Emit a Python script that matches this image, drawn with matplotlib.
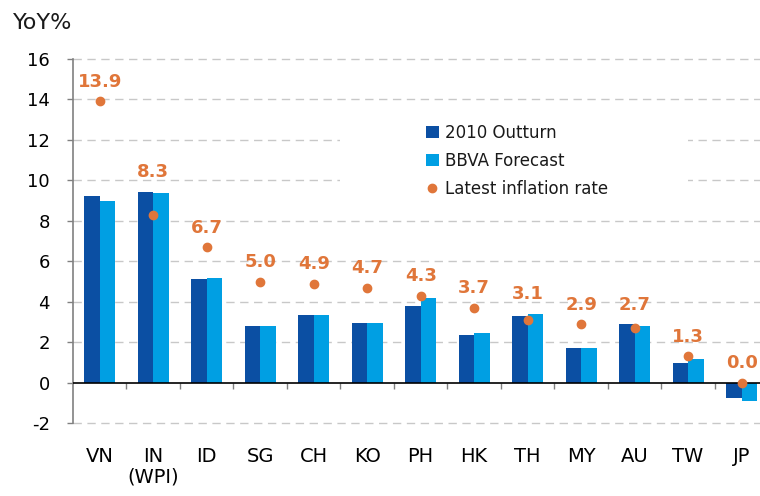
import numpy as np
import matplotlib
matplotlib.use('Agg')
import matplotlib.pyplot as plt
from matplotlib.patches import Patch, Rectangle
from matplotlib.lines import Line2D

# data
countries = ['VN', 'IN\n(WPI)', 'ID', 'SG', 'CH', 'KO', 'PH', 'HK', 'TH', 'MY', 'AU', 'TW', 'JP']
outturn_2010 = [9.22, 9.45, 5.11, 2.82, 3.33, 2.95, 3.78, 2.37, 3.28, 1.70, 2.89, 0.97, -0.76]
bbva_forecast = [9.0, 9.4, 5.18, 2.82, 3.33, 2.95, 4.17, 2.44, 3.40, 1.70, 2.82, 1.15, -0.89]
latest_rate = [13.9, 8.3, 6.7, 5.0, 4.9, 4.7, 4.3, 3.7, 3.1, 2.9, 2.7, 1.3, 0.0]
yticks = [-2, 0, 2, 4, 6, 8, 10, 12, 14, 16]

c_dark = '#0B4FA3'
c_light = '#009FE3'
c_orange = '#E0763A'
c_grid = '#C8C8C8'
c_axis = '#808080'

plt.rcParams['font.family'] = 'DejaVu Sans'
plt.rcParams['text.color'] = '#1A1A1A'

fig = plt.figure(figsize=(7.6, 4.96), dpi=100)
ax = fig.add_axes([0.096, 0.147, 0.915, 0.734])

x = np.arange(len(countries))
w = 0.29

# dashed grid
for yv in yticks:
    if yv == 0:
        continue
    ax.axhline(yv, color=c_grid, lw=1, ls=(0, (6, 4)), zorder=0, clip_on=False)

ax.bar(x - w/2, outturn_2010, w, color=c_dark, zorder=2)
ax.bar(x + w/2, bbva_forecast, w, color=c_light, zorder=2)
ax.axhline(0, color='black', lw=1.2, zorder=3)
ax.plot(x, latest_rate, 'o', color=c_orange, ms=6, zorder=4, clip_on=False)
# value labels sit above whichever is higher: the dot or the bars
for xi, v, a, b in zip(x, latest_rate, outturn_2010, bbva_forecast):
    top = max(v, a, b)
    ax.annotate('%.1f' % v, (xi, top), xytext=(0, 14), textcoords='offset points',
                ha='center', va='center', fontsize=13, fontweight='bold',
                color=c_orange, zorder=5)

ax.set_xlim(-0.5, len(countries) - 0.5)
ax.set_ylim(-2, 16)
ax.set_yticks(yticks)
ax.set_yticklabels([str(t) for t in yticks])
ax.tick_params(axis='y', which='major', direction='out', length=4.5, width=1,
               color=c_axis, labelsize=13, pad=12)

# category labels low, separator ticks on the zero line
ax.spines['bottom'].set_position(('data', 0))
ax.spines['bottom'].set_visible(False)
ax.set_xticks(x)
ax.set_xticklabels(countries, fontsize=14, va='top', linespacing=1.15)
ax.set_xticks(np.arange(len(countries)) + 0.5, minor=True)
ax.tick_params(axis='x', which='major', length=0, pad=46)
ax.tick_params(axis='x', which='minor', direction='out', length=4.5, width=1, color=c_axis)
for sp in ['top', 'right']:
    ax.spines[sp].set_visible(False)
ax.spines['left'].set_color(c_axis)
ax.spines['left'].set_linewidth(1.2)

# white block behind legend
ax.add_patch(Rectangle((0.384, 0.6), 0.5, 0.245, transform=ax.transAxes,
                       facecolor='white', edgecolor='none', zorder=1))
handles = [Patch(facecolor=c_dark, label='2010 Outturn'),
           Patch(facecolor=c_light, label='BBVA Forecast'),
           Line2D([], [], marker='o', ls='none', color=c_orange, ms=6, label='Latest inflation rate')]
leg = ax.legend(handles=handles, loc='upper left', bbox_to_anchor=(0.508, 0.822),
                frameon=False, fontsize=12, borderpad=0, borderaxespad=0,
                handlelength=0.75, handleheight=0.75, handletextpad=0.35,
                labelspacing=0.6)

fig.text(0.017, 0.953, 'YoY%', fontsize=16, va='center', ha='left')

plt.savefig('out.png', dpi=100)
